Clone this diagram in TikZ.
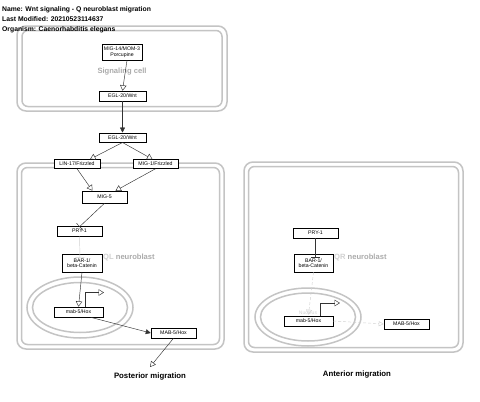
\documentclass[tikz,border=0pt]{standalone}
\usepackage{fontspec}
\setmainfont{Liberation Sans}
\usetikzlibrary{arrows.meta}
\definecolor{cellgray}{HTML}{C4C4C4}
\definecolor{labgray}{HTML}{ABABAB}
\definecolor{faint}{HTML}{D2D2D2}
\definecolor{edgecol}{HTML}{333333}
\begin{document}
\begin{tikzpicture}[x=1pt,y=-1pt,
  cellline/.style={draw=cellgray,line width=1.5pt},
  box/.style={draw=black,line width=0.5pt,fill=white,inner sep=0pt,align=center,
    font=\fontsize{5.2}{5.6}\selectfont},
  edge/.style={draw=edgecol,line width=0.45pt},
  oarrow/.style={edge,-{Triangle[open,length=5.5pt,width=6.5pt]}},
  farrow/.style={edge,-{Triangle[length=5pt,width=5pt]}},
  inhib/.style={edge,-{Bar[width=9pt]}},
  title/.style={anchor=west,font=\fontsize{6.8}{7}\selectfont\bfseries,inner sep=0pt},
  cellname/.style={font=\fontsize{7.6}{8}\selectfont\bfseries,text=labgray,inner sep=0pt},
  caption/.style={font=\fontsize{7.8}{8}\selectfont\bfseries,inner sep=0pt}]
\useasboundingbox (0,0) rectangle (480,402);
\fill[white] (0,0) rectangle (480,402);

% signaling cell
\draw[cellline,rounded corners=9pt] (17,26) rectangle (227,111);
\draw[cellline,rounded corners=6pt] (22,30.5) rectangle (222,106.5);
\node[cellname] (sc) at (122,72) {Signaling cell};

% titles
\node[title] (t1) at (2,9.5) {Name: Wnt signaling - Q neuroblast migration};
\node[title] (t2) at (2,19.5) {Last Modified: 20210523114637};
\node[title] (t3) at (2,29.5) {Organism: Caenorhabditis elegans};

% QL neuroblast cell
\draw[cellline,rounded corners=9pt] (17,163) rectangle (224,349);
\draw[cellline,rounded corners=6pt] (21.5,167.5) rectangle (219.5,344.5);
\node[cellname,anchor=west] (ql) at (103,257) {\textcolor{faint}{QL} neuroblast};

% QR neuroblast cell
\draw[cellline,rounded corners=9pt] (244,162) rectangle (463,352);
\draw[cellline,rounded corners=6pt] (248.5,166.5) rectangle (458.5,347.5);
\node[cellname,anchor=west] (qr) at (334,257) {\textcolor{faint}{QR} neuroblast};

% nuclei
\draw[cellline] (80,307.5) ellipse [x radius=53pt, y radius=30.5pt];
\draw[cellline] (80,307.5) ellipse [x radius=47.5pt, y radius=25pt];
\draw[cellline] (308,317) ellipse [x radius=53pt, y radius=29pt];
\draw[cellline] (308,317) ellipse [x radius=47.5pt, y radius=24pt];
\node[font=\fontsize{5}{5}\selectfont,text=faint,inner sep=0pt] (nucR) at (308,312.3) {Nucleus};

% nodes
\node[box,minimum width=40pt,minimum height=16pt] (mig14) at (122,52) {MIG-14/MOM-3\\Porcupine};
\node[box,minimum width=47pt,minimum height=10pt] (eglIn) at (122.5,96) {EGL-20/Wnt};
\node[box,minimum width=47pt,minimum height=9.5pt] (eglOut) at (122.5,137.5) {EGL-20/Wnt};
\node[box,minimum width=46pt,minimum height=9pt] (lin17) at (77,164) {LIN-17/Frizzled};
\node[box,minimum width=45pt,minimum height=9pt] (mig1) at (155.5,164) {MIG-1/Frizzled};
\node[box,minimum width=45pt,minimum height=12pt] (mig5) at (104.5,197) {MIG-5};
\node[box,minimum width=45pt,minimum height=10pt] (pryL) at (79.5,231) {PRY-1};
\node[box,minimum width=40pt,minimum height=18pt] (barL) at (82,263) {BAR-1/\\beta-Catenin};
\node[box,minimum width=49pt,minimum height=10pt] (mabL) at (78.5,312) {mab-5/Hox};
\node[box,minimum width=45pt,minimum height=10pt] (MABL) at (173.5,333) {MAB-5/Hox};
\node[caption] (post) at (150,376) {Posterior migration};
\coordinate (postTip) at (150,367);

\node[box,minimum width=45pt,minimum height=10pt] (pryR) at (315.5,233) {PRY-1};
\node[box,minimum width=39pt,minimum height=18pt] (barR) at (313.5,263) {BAR-1/\\beta-Catenin};
\node[box,minimum width=49pt,minimum height=10pt] (mabR) at (308.5,321) {mab-5/Hox};
\node[box,minimum width=45pt,minimum height=10pt] (MABR) at (406.5,324) {MAB-5/Hox};
\node[caption] (ant) at (357,374) {Anterior migration};

\coordinate (tL) at (104,292.5);
\coordinate (tR) at (340,303);

% edges
\draw[oarrow] ([xshift=5pt]mig14.south) -- (eglIn.north);
\draw[farrow] (eglIn.south) -- (eglOut.north);
\draw[oarrow] (eglOut.south) -- ([xshift=13pt]lin17.north);
\draw[oarrow] (eglOut.south) -- ([xshift=-3pt]mig1.north);
\draw[oarrow] (lin17.south) -- ([xshift=-12pt]mig5.north);
\draw[oarrow] (mig1.south) -- ([xshift=11pt]mig5.north);
\draw[inhib] (mig5.south) -- ([yshift=-1pt]pryL.north);
\draw[edge,draw=faint,-{Bar[width=9pt]}] (pryL.south) -- ([yshift=-4pt,xshift=-2pt]barL.north);
\draw[oarrow] (barL.south) -- (mabL.north);
\draw[oarrow] ([xshift=6.5pt]mabL.north) |- (tL);
\draw[farrow] ([xshift=12pt]mabL.south) -- (MABL.west);
\draw[edge,-{Triangle[open,length=5.5pt,width=6pt]}] (MABL.south) -- (postTip);

\draw[inhib] (pryR.south) -- ([yshift=-4pt,xshift=2pt]barR.north);
\draw[edge,draw=faint,densely dashed,-{Triangle[open,length=5pt,width=6pt]}] (barR.south) -- ([yshift=1pt]mabR.north);
\draw[oarrow] ([xshift=11.5pt]mabR.north) |- (tR);
\draw[edge,draw=faint,densely dashed,-{Triangle[open,length=5pt,width=5pt]}] (mabR.east) -- (MABR.west);
\end{tikzpicture}
\end{document}
